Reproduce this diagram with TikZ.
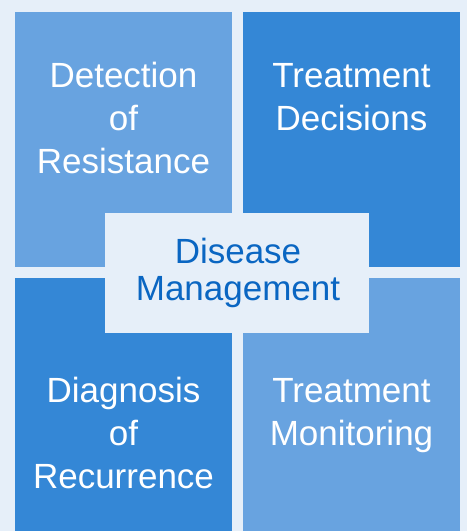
\documentclass[tikz,border=0pt]{standalone}
\usepackage{fontspec}
\setmainfont{Liberation Sans}
\definecolor{bgc}{HTML}{E6EFF9}
\definecolor{lightb}{HTML}{68A3E0}
\definecolor{darkb}{HTML}{3487D6}
\definecolor{centtxt}{HTML}{0A66C2}
\begin{document}
\begin{tikzpicture}[x=1pt,y=-1pt,
  corner/.style={text=white, align=center, inner sep=0pt, anchor=base, font=\fontsize{35}{43}\selectfont},
  centerlbl/.style={text=centtxt, align=center, inner sep=0pt, anchor=base, font=\fontsize{35}{37}\selectfont}]
\fill[bgc] (0,0) rectangle (467,531);
\useasboundingbox (0,0) rectangle (467,531);
\fill[lightb] (15,12) rectangle (232,267);
\fill[darkb] (243,12) rectangle (460,267);
\fill[darkb] (15,278) rectangle (232,531);
\fill[lightb] (243,278) rectangle (460,531);
\fill[bgc] (105,213) rectangle (369,333);
\node[corner] (tl) at (123.5,173) {Detection\\of\\Resistance};
\node[corner] (tr) at (351.5,130) {Treatment\\Decisions};
\node[corner] (bl) at (123.5,488) {Diagnosis\\of\\Recurrence};
\node[corner] (br) at (351.5,445) {Treatment\\Monitoring};
\node[centerlbl] (c) at (238,300) {Disease\\Management};
\end{tikzpicture}
\end{document}
